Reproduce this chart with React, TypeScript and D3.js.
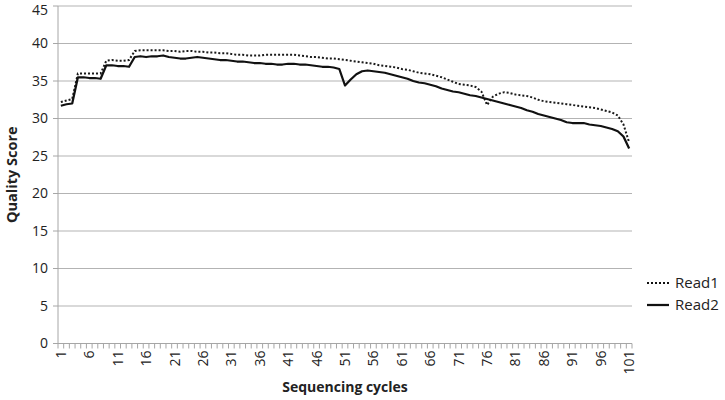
import React from "react";
import * as d3 from "d3";

const read1: number[] = [
  32.2, 32.4, 32.6, 36.0, 36.0, 36.0, 36.0, 36.0, 37.7, 37.8,
  37.7, 37.7, 37.8, 39.0, 39.1, 39.1, 39.1, 39.1, 39.1, 39.0,
  39.0, 38.9, 39.0, 39.0, 38.9, 38.9, 38.8, 38.8, 38.7, 38.7,
  38.6, 38.5, 38.5, 38.4, 38.4, 38.4, 38.5, 38.5, 38.5, 38.5,
  38.5, 38.5, 38.4, 38.3, 38.2, 38.2, 38.1, 38.0, 38.0, 37.9,
  37.8, 37.7, 37.6, 37.5, 37.4, 37.3, 37.1, 37.0, 36.9, 36.8,
  36.6, 36.5, 36.3, 36.1, 36.0, 35.9, 35.7, 35.5, 35.2, 34.9,
  34.6, 34.5, 34.4, 34.2, 33.6, 31.8, 32.9, 33.3, 33.5, 33.4,
  33.2, 33.1, 33.0, 32.8, 32.5, 32.3, 32.2, 32.1, 32.0, 31.9,
  31.8, 31.7, 31.6, 31.5, 31.4, 31.2, 31.0, 30.8, 30.4, 29.2,
  26.8,
];

const read2: number[] = [
  31.7, 31.9, 32.0, 35.5, 35.5, 35.4, 35.4, 35.3, 37.1, 37.1,
  37.0, 37.0, 36.9, 38.2, 38.3, 38.2, 38.3, 38.3, 38.4, 38.2,
  38.1, 38.0, 38.0, 38.1, 38.2, 38.1, 38.0, 37.9, 37.8, 37.8,
  37.7, 37.6, 37.6, 37.5, 37.4, 37.4, 37.3, 37.3, 37.2, 37.2,
  37.3, 37.3, 37.2, 37.2, 37.1, 37.0, 36.9, 36.9, 36.8, 36.6,
  34.4, 35.2, 35.9, 36.3, 36.4, 36.3, 36.2, 36.1, 35.9, 35.7,
  35.5, 35.3, 35.0, 34.8, 34.7, 34.5, 34.3, 34.0, 33.8, 33.6,
  33.5, 33.3, 33.1, 33.0, 32.8, 32.6, 32.4, 32.2, 32.0, 31.8,
  31.6, 31.4, 31.1, 30.9, 30.6, 30.4, 30.2, 30.0, 29.8, 29.5,
  29.4, 29.4, 29.4, 29.2, 29.1, 29.0, 28.8, 28.6, 28.3, 27.6,
  26.0,
];

const cycles: number[] = read1.map((_, i) => i + 1);
const cycleTickLabels: number[] = [1, 6, 11, 16, 21, 26, 31, 36, 41, 46, 51, 56, 61, 66, 71, 76, 81, 86, 91, 96, 101];
const yTicks: number[] = [0, 5, 10, 15, 20, 25, 30, 35, 40, 45];
const seriesNames: string[] = ["Read1", "Read2"];

const W = 725;
const H = 400;
const margin = { left: 58, right: 93, top: 6, bottom: 56.5 };
const FONT = "'Open Sans', 'Liberation Sans', sans-serif";

export default function App() {
  const x = d3
    .scaleBand<number>()
    .domain(cycles)
    .range([margin.left, W - margin.right])
    .paddingInner(0)
    .paddingOuter(0);
  const y = d3.scaleLinear().domain([0, 45]).range([H - margin.bottom, margin.top]);
  const cx = (c: number) => (x(c) as number) + x.bandwidth() / 2;

  const line = d3
    .line<number>()
    .x((_, i) => cx(cycles[i]))
    .y((d) => y(d));

  const y0 = y(0);
  const boundaries = [...cycles.map((c) => x(c) as number), W - margin.right];

  return (
    <svg
      width={W}
      height={H}
      style={{ position: "absolute", left: 0, top: 0, background: "#fff" }}
      fontFamily={FONT}
    >
      {/* gridlines */}
      {yTicks.map((t) => (
        <g key={t}>
          {t > 0 && (
            <line x1={margin.left} x2={W - margin.right} y1={y(t)} y2={y(t)} stroke="#b3b3b3" strokeWidth={1} />
          )}
          <line x1={margin.left - 5} x2={margin.left} y1={y(t)} y2={y(t)} stroke="#a6a6a6" strokeWidth={1} />
          <text x={margin.left - 10} y={Math.max(y(t), 10.5)} dy="0.35em" textAnchor="end" fontSize={14} fill="#222">
            {t}
          </text>
        </g>
      ))}
      {/* y axis */}
      <line x1={margin.left} x2={margin.left} y1={margin.top} y2={y0} stroke="#a6a6a6" strokeWidth={1} />
      {/* x axis */}
      <line x1={margin.left} x2={W - margin.right} y1={y0} y2={y0} stroke="#a6a6a6" strokeWidth={1} />
      {boundaries.map((b, i) => (
        <line key={i} x1={b} x2={b} y1={y0} y2={y0 + 5} stroke="#a6a6a6" strokeWidth={1} />
      ))}
      {cycleTickLabels.map((c) => (
        <text
          key={c}
          transform={`translate(${cx(c) + 5},${y0 + 7}) rotate(-90)`}
          textAnchor="end"
          fontSize={14}
          fill="#222"
        >
          {c}
        </text>
      ))}
      {/* lines */}
      <path d={line(read1) || ""} fill="none" stroke="#1a1a1a" strokeWidth={2} strokeDasharray="2,2" />
      <path d={line(read2) || ""} fill="none" stroke="#111" strokeWidth={2.25} strokeLinejoin="round" />
      {/* axis titles */}
      <text
        x={(margin.left + W - margin.right) / 2}
        y={392}
        textAnchor="middle"
        fontSize={14}
        fontWeight="bold"
        fill="#222"
      >
        Sequencing cycles
      </text>
      <text
        transform={`translate(17,${(margin.top + y0) / 2}) rotate(-90)`}
        textAnchor="middle"
        fontSize={14.5}
        fontWeight="bold"
        fill="#222"
      >
        Quality Score
      </text>
      {/* legend */}
      {seriesNames.map((name, i) => (
        <g key={name} transform={`translate(647,${283 + i * 22})`}>
          <line
            x1={0}
            x2={22}
            y1={0}
            y2={0}
            stroke="#111"
            strokeWidth={i === 0 ? 2 : 2.25}
            strokeDasharray={i === 0 ? "2,2" : undefined}
          />
          <text x={28} y={0} dy="0.35em" fontSize={15} fill="#222">
            {name}
          </text>
        </g>
      ))}
    </svg>
  );
}
